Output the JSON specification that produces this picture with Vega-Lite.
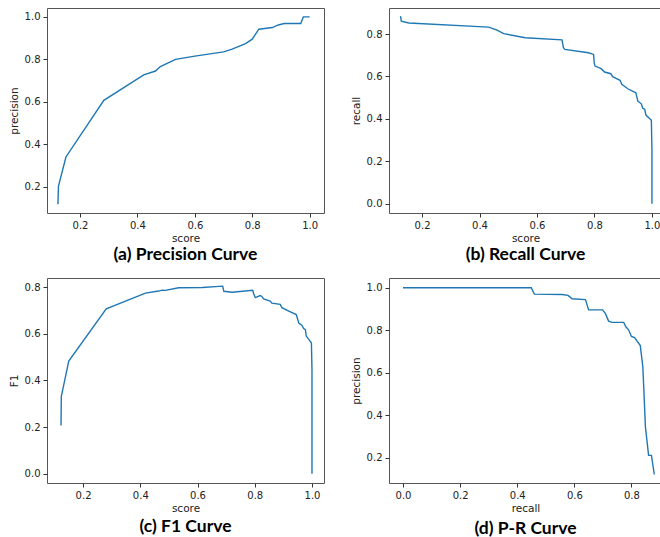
{
  "$schema": "https://vega.github.io/schema/vega-lite/v6.json",
  "background": "white",
  "padding": {"left": 8, "top": 7, "right": 0, "bottom": 0},
  "bounds": "flush",
  "columns": 2,
  "spacing": {"row": 65, "column": 65},
  "datasets": {
    "prec": [
      {"score": 0.123, "precision": 0.117}, {"score": 0.125, "precision": 0.203}, {"score": 0.151, "precision": 0.340},
      {"score": 0.283, "precision": 0.607}, {"score": 0.422, "precision": 0.727}, {"score": 0.463, "precision": 0.745},
      {"score": 0.480, "precision": 0.766}, {"score": 0.533, "precision": 0.800}, {"score": 0.600, "precision": 0.815},
      {"score": 0.700, "precision": 0.835}, {"score": 0.730, "precision": 0.848}, {"score": 0.777, "precision": 0.874},
      {"score": 0.800, "precision": 0.895}, {"score": 0.823, "precision": 0.942}, {"score": 0.870, "precision": 0.950},
      {"score": 0.891, "precision": 0.962}, {"score": 0.911, "precision": 0.969}, {"score": 0.969, "precision": 0.969},
      {"score": 0.978, "precision": 1.0}, {"score": 1.0, "precision": 1.0}
    ],
    "rec": [
      {"score": 0.125, "recall": 0.885}, {"score": 0.128, "recall": 0.861}, {"score": 0.154, "recall": 0.852},
      {"score": 0.432, "recall": 0.833}, {"score": 0.461, "recall": 0.819}, {"score": 0.484, "recall": 0.802},
      {"score": 0.559, "recall": 0.783}, {"score": 0.687, "recall": 0.773}, {"score": 0.692, "recall": 0.736},
      {"score": 0.697, "recall": 0.728}, {"score": 0.779, "recall": 0.712}, {"score": 0.797, "recall": 0.704},
      {"score": 0.799, "recall": 0.665}, {"score": 0.802, "recall": 0.649}, {"score": 0.823, "recall": 0.637},
      {"score": 0.835, "recall": 0.621}, {"score": 0.857, "recall": 0.613}, {"score": 0.863, "recall": 0.599},
      {"score": 0.889, "recall": 0.582}, {"score": 0.895, "recall": 0.563}, {"score": 0.916, "recall": 0.542},
      {"score": 0.944, "recall": 0.523}, {"score": 0.951, "recall": 0.484}, {"score": 0.963, "recall": 0.471},
      {"score": 0.968, "recall": 0.450}, {"score": 0.975, "recall": 0.445}, {"score": 0.979, "recall": 0.418},
      {"score": 0.998, "recall": 0.393}, {"score": 1.0, "recall": 0.248}, {"score": 1.0, "recall": 0.0}
    ],
    "f1": [
      {"score": 0.123, "F1": 0.207}, {"score": 0.124, "F1": 0.331}, {"score": 0.150, "F1": 0.483},
      {"score": 0.281, "F1": 0.707}, {"score": 0.418, "F1": 0.774}, {"score": 0.464, "F1": 0.783},
      {"score": 0.476, "F1": 0.787}, {"score": 0.488, "F1": 0.786}, {"score": 0.534, "F1": 0.797},
      {"score": 0.616, "F1": 0.798}, {"score": 0.688, "F1": 0.804}, {"score": 0.692, "F1": 0.782},
      {"score": 0.721, "F1": 0.778}, {"score": 0.793, "F1": 0.786}, {"score": 0.796, "F1": 0.772},
      {"score": 0.802, "F1": 0.755}, {"score": 0.819, "F1": 0.764}, {"score": 0.825, "F1": 0.760},
      {"score": 0.831, "F1": 0.749}, {"score": 0.854, "F1": 0.740}, {"score": 0.860, "F1": 0.731},
      {"score": 0.889, "F1": 0.726}, {"score": 0.895, "F1": 0.712}, {"score": 0.919, "F1": 0.697},
      {"score": 0.945, "F1": 0.682}, {"score": 0.954, "F1": 0.646}, {"score": 0.965, "F1": 0.636},
      {"score": 0.971, "F1": 0.622}, {"score": 0.977, "F1": 0.617}, {"score": 0.980, "F1": 0.590},
      {"score": 0.994, "F1": 0.567}, {"score": 0.998, "F1": 0.560}, {"score": 1.0, "F1": 0.443},
      {"score": 1.0, "F1": 0.0}
    ],
    "pr": [
      {"recall": 0.0, "precision": 1.0}, {"recall": 0.449, "precision": 1.0}, {"recall": 0.460, "precision": 0.970},
      {"recall": 0.557, "precision": 0.968}, {"recall": 0.578, "precision": 0.964}, {"recall": 0.592, "precision": 0.948},
      {"recall": 0.639, "precision": 0.944}, {"recall": 0.650, "precision": 0.896}, {"recall": 0.699, "precision": 0.896},
      {"recall": 0.709, "precision": 0.878}, {"recall": 0.720, "precision": 0.843}, {"recall": 0.732, "precision": 0.837},
      {"recall": 0.773, "precision": 0.837}, {"recall": 0.781, "precision": 0.815}, {"recall": 0.790, "precision": 0.802},
      {"recall": 0.800, "precision": 0.771}, {"recall": 0.811, "precision": 0.765}, {"recall": 0.831, "precision": 0.728},
      {"recall": 0.840, "precision": 0.626}, {"recall": 0.849, "precision": 0.344}, {"recall": 0.860, "precision": 0.211},
      {"recall": 0.870, "precision": 0.211}, {"recall": 0.880, "precision": 0.121}
    ]
  },
  "concat": [
    {
      "title": "(a) Precision Curve",
      "width": 277, "height": 205,
      "data": {"name": "prec"},
      "mark": {"type": "line"},
      "encoding": {
        "x": {"field": "score", "type": "quantitative", "title": "score",
              "scale": {"domain": [0.085, 1.05], "nice": false, "zero": false},
              "axis": {"values": [0.2, 0.4, 0.6, 0.8, 1.0], "format": ".1f"}},
        "y": {"field": "precision", "type": "quantitative", "title": "precision",
              "scale": {"domain": [0.076, 1.042], "nice": false, "zero": false},
              "axis": {"values": [0.2, 0.4, 0.6, 0.8, 1.0], "format": ".1f"}},
        "order": {"value": null}
      }
    },
    {
      "title": "(b) Recall Curve",
      "width": 273, "height": 205,
      "data": {"name": "rec"},
      "mark": {"type": "line"},
      "encoding": {
        "x": {"field": "score", "type": "quantitative", "title": "score",
              "scale": {"domain": [0.085, 1.035], "nice": false, "zero": false},
              "axis": {"values": [0.2, 0.4, 0.6, 0.8, 1.0], "format": ".1f"}},
        "y": {"field": "recall", "type": "quantitative", "title": "recall",
              "scale": {"domain": [-0.044, 0.923], "nice": false, "zero": false},
              "axis": {"values": [0.0, 0.2, 0.4, 0.6, 0.8], "format": ".1f"}},
        "order": {"value": null}
      }
    },
    {
      "title": {"text": "(c)  F1 Curve", "offset": 4},
      "width": 277, "height": 205,
      "data": {"name": "f1"},
      "mark": {"type": "line"},
      "encoding": {
        "x": {"field": "score", "type": "quantitative", "title": "score",
              "scale": {"domain": [0.074, 1.042], "nice": false, "zero": false},
              "axis": {"values": [0.2, 0.4, 0.6, 0.8, 1.0], "format": ".1f"}},
        "y": {"field": "F1", "type": "quantitative", "title": "F1",
              "scale": {"domain": [-0.04, 0.839], "nice": false, "zero": false},
              "axis": {"values": [0.0, 0.2, 0.4, 0.6, 0.8], "format": ".1f"}},
        "order": {"value": null}
      }
    },
    {
      "title": {"text": "(d) P-R Curve", "offset": 6},
      "width": 273, "height": 205,
      "data": {"name": "pr"},
      "mark": {"type": "line"},
      "encoding": {
        "x": {"field": "recall", "type": "quantitative", "title": "recall",
              "scale": {"domain": [-0.049, 0.907], "nice": false, "zero": false},
              "axis": {"values": [0.0, 0.2, 0.4, 0.6, 0.8], "format": ".1f"}},
        "y": {"field": "precision", "type": "quantitative", "title": "precision",
              "scale": {"domain": [0.081, 1.046], "nice": false, "zero": false},
              "axis": {"values": [0.2, 0.4, 0.6, 0.8, 1.0], "format": ".1f"}},
        "order": {"value": null}
      }
    }
  ],
  "config": {
    "view": {"stroke": "#555", "strokeWidth": 1},
    "axis": {"grid": false, "domain": false, "ticks": true, "tickColor": "#333", "tickSize": 4,
             "labelFont": "DejaVu Sans", "labelFontSize": 10, "labelColor": "#222", "labelPadding": 3,
             "titleFont": "DejaVu Sans", "titleFontSize": 10.5, "titleFontWeight": "normal", "titleColor": "#222",
             "titlePadding": 3},
    "axisY": {"titlePadding": 5},
    "title": {"font": "Lato", "fontSize": 17.5, "fontWeight": "bold", "color": "#000",
              "orient": "bottom", "anchor": "middle", "offset": 2},
    "line": {"color": "#1f77b4", "strokeWidth": 1.4}
  }
}
